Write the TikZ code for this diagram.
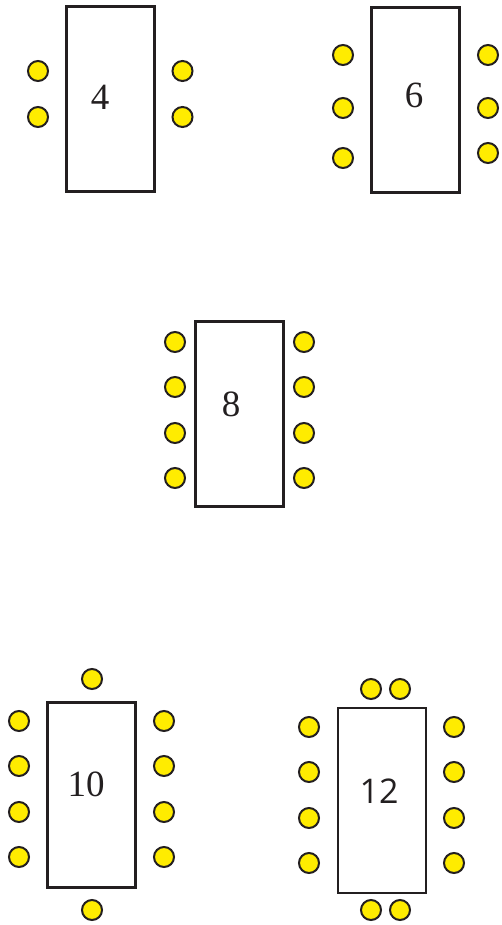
\documentclass[tikz,border=0pt]{standalone}
\usepackage{fontspec}
\newfontfamily\lblserif{Liberation Serif}
\newfontfamily\lblsans{Open Sans}
\definecolor{seat}{HTML}{FFEC00}
\definecolor{edge}{HTML}{231F20}
\begin{document}
\begin{tikzpicture}[x=1pt,y=-1pt,
  tablebox/.style={draw=edge,line width=2.2pt,fill=white,minimum width=88pt,minimum height=185pt,inner sep=0pt},
  chair/.style={circle,draw=edge,line width=2pt,fill=seat,minimum size=20pt,inner sep=0pt},
  lbl/.style={font=\lblserif\fontsize{37}{37}\selectfont,text=edge,inner sep=0pt},
  lbls/.style={font=\lblsans\fontsize{34}{34}\selectfont,text=edge,inner sep=0pt}]
\useasboundingbox (0,0) rectangle (501,925);
% table 4
\node[tablebox] (t4) at (110.5,99) {};
\node[lbl] (l4) at (100,97) {4};
\node[chair] (c4a) at (38,71) {};
\node[chair] (c4b) at (38,117) {};
\node[chair] (c4c) at (182.5,71) {};
\node[chair] (c4d) at (182.5,117) {};
% table 6
\node[tablebox] (t6) at (415.5,100) {};
\node[lbl] (l6) at (414,95) {6};
\node[chair] (c6a) at (343,55) {};
\node[chair] (c6b) at (343,108) {};
\node[chair] (c6c) at (343,158) {};
\node[chair] (c6d) at (488,55) {};
\node[chair] (c6e) at (488,108) {};
\node[chair] (c6f) at (488,153) {};
% table 8
\node[tablebox] (t8) at (239.5,414) {};
\node[lbl] (l8) at (231,404) {8};
\node[chair] (c8a) at (175,342) {};
\node[chair] (c8b) at (175,387) {};
\node[chair] (c8c) at (175,433) {};
\node[chair] (c8d) at (175,478) {};
\node[chair] (c8e) at (304,342) {};
\node[chair] (c8f) at (304,387) {};
\node[chair] (c8g) at (304,433) {};
\node[chair] (c8h) at (304,478) {};
% table 10
\node[tablebox] (t10) at (91.5,795) {};
\node[lbl] (l10) at (86,784) {10};
\node[chair] (c10a) at (19,721) {};
\node[chair] (c10b) at (19,766) {};
\node[chair] (c10c) at (19,812) {};
\node[chair] (c10d) at (19,857) {};
\node[chair] (c10e) at (164,721) {};
\node[chair] (c10f) at (164,766) {};
\node[chair] (c10g) at (164,812) {};
\node[chair] (c10h) at (164,857) {};
\node[chair] (c10i) at (92,679) {};
\node[chair] (c10j) at (92,910) {};
% table 12
\node[tablebox] (t12) at (382,800.5) {};
\node[lbls] (l12) at (379,791) {12};
\node[chair] (c12a) at (309,727) {};
\node[chair] (c12b) at (309,772) {};
\node[chair] (c12c) at (309,818) {};
\node[chair] (c12d) at (309,863) {};
\node[chair] (c12e) at (454,727) {};
\node[chair] (c12f) at (454,772) {};
\node[chair] (c12g) at (454,818) {};
\node[chair] (c12h) at (454,863) {};
\node[chair] (c12i) at (371,689) {};
\node[chair] (c12j) at (400,689) {};
\node[chair] (c12k) at (371,910) {};
\node[chair] (c12l) at (400,910) {};
\end{tikzpicture}
\end{document}
